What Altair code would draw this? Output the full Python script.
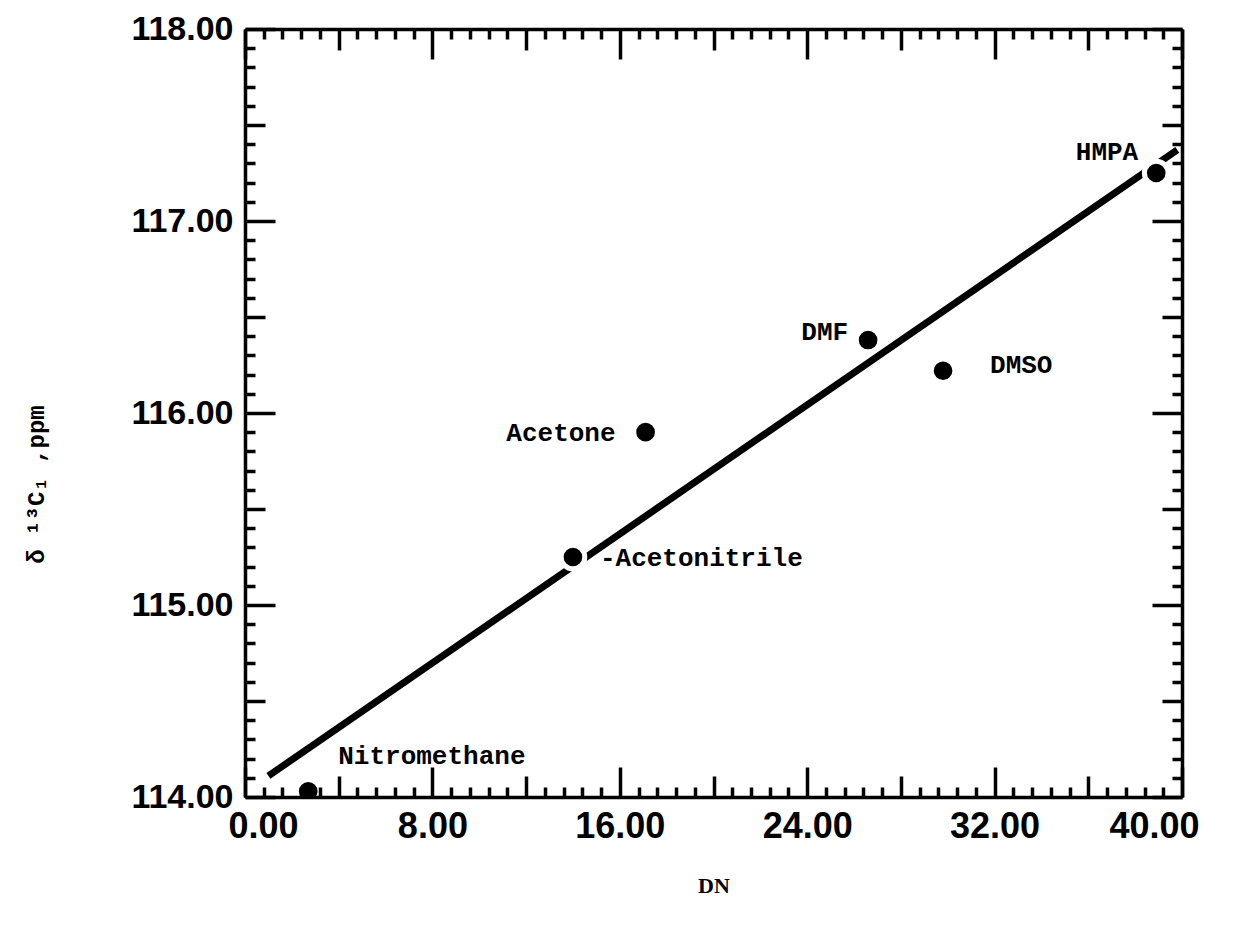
import altair as alt
import pandas as pd

# ---- data ----
solvents = ["Nitromethane", "Acetonitrile", "Acetone", "DMF", "DMSO", "HMPA"]
label_texts = ["Nitromethane", "-Acetonitrile", "Acetone", "DMF", "DMSO", "HMPA"]
dn_values = [2.7, 14.0, 17.1, 26.6, 29.8, 38.9]
shift_values = [114.03, 115.25, 115.90, 116.38, 116.22, 117.25]

fit_dn = [1.0, 39.8]
fit_shift = [114.11, 117.37]

x_label_values = [0, 8, 16, 24, 32, 40]
y_label_values = [114, 115, 116, 117, 118]
x_tick_values = [round(i * 0.8, 1) for i in range(51)]
y_tick_values = [round(114 + i * 0.1, 1) for i in range(41)]

# ---- styles ----
W, H = 937, 768
TICK_W = 3.5
label_style = {
    "Nitromethane": dict(align="left", dx=30, dy=-35),
    "Acetonitrile": dict(align="left", dx=27, dy=1),
    "Acetone": dict(align="right", dx=-30, dy=1),
    "DMF": dict(align="right", dx=-20, dy=-8),
    "DMSO": dict(align="left", dx=47, dy=-6),
    "HMPA": dict(align="right", dx=-18, dy=-21),
}

pts = pd.DataFrame({"solvent": solvents, "label": label_texts,
                    "dn": dn_values, "shift": shift_values})
fit = pd.DataFrame({"dn": fit_dn, "shift": fit_shift})

xscale = alt.Scale(domain=[0, 40], nice=False, zero=False)
yscale = alt.Scale(domain=[114, 118], nice=False, zero=False)

x_size = {"condition": [{"test": "datum.value % 8 === 0", "value": 30},
                        {"test": "datum.value % 4 === 0", "value": 21}],
          "value": 10}
y_size = {"condition": [{"test": "round(datum.value*10) % 10 === 0", "value": 30},
                        {"test": "round(datum.value*10) % 5 === 0", "value": 20}],
          "value": 10}

x_label_axis = alt.Axis(orient="bottom", values=x_label_values, format=".2f",
                        labelFont="Liberation Sans", labelFontWeight="bold",
                        labelFontSize=36, labelColor="black", labelPadding=12,
                        labelFlush=True, labelFlushOffset=17,
                        ticks=False, tickSize=0, grid=False,
                        domain=True, domainColor="black", domainWidth=TICK_W,
                        title="DN", titleFont="Liberation Serif", titleFontSize=22,
                        titleFontWeight="bold", titleColor="black", titlePadding=31,
                        zindex=1)
y_label_axis = alt.Axis(orient="left", values=y_label_values, format=".2f",
                        labelFont="Liberation Sans", labelFontWeight="bold",
                        labelFontSize=34, labelColor="black", labelPadding=12,
                        ticks=False, tickSize=0, grid=False,
                        domain=True, domainColor="black", domainWidth=TICK_W,
                        title="δ  ¹³C₁   ,ppm", titleFont="Liberation Mono",
                        titleFontSize=24, titleFontWeight="bold", titleColor="black",
                        titlePadding=82, titleY=455, zindex=1)


def tick_axis(orient, values, size, offset, domain):
    return alt.Axis(orient=orient, values=values, offset=offset, labels=False,
                    grid=False, title=None, tickColor="black", tickWidth=TICK_W,
                    tickSize=size, domain=domain, domainColor="black",
                    domainWidth=TICK_W, zindex=1)


line = alt.Chart(fit).mark_line(color="black", strokeWidth=7).encode(
    x=alt.X("dn:Q", scale=xscale, axis=x_label_axis),
    y=alt.Y("shift:Q", scale=yscale, axis=y_label_axis),
)

points = alt.Chart(pts).mark_circle(color="black", size=560, opacity=1,
                                    stroke="white", strokeWidth=5,
                                    clip=True).encode(
    x=alt.X("dn:Q", scale=xscale,
            axis=tick_axis("top", x_tick_values, x_size, -H, False)),
    y=alt.Y("shift:Q", scale=yscale,
            axis=tick_axis("right", y_tick_values, y_size, -W, False)),
)

frame = alt.Chart(pts).mark_circle(opacity=0).encode(
    x=alt.X("dn:Q", scale=xscale,
            axis=tick_axis("bottom", x_tick_values, x_size, -H, True)),
    y=alt.Y("shift:Q", scale=yscale,
            axis=tick_axis("left", y_tick_values, y_size, -W, True)),
)

texts = []
for name in solvents:
    st = label_style[name]
    texts.append(
        alt.Chart(pts).transform_filter(alt.datum.solvent == name).mark_text(
            font="Liberation Mono", fontWeight="bold", fontSize=26,
            color="black", baseline="middle", **st).encode(
            x=alt.X("dn:Q", scale=xscale, axis=None),
            y=alt.Y("shift:Q", scale=yscale, axis=None),
            text="label:N")
    )

chart = alt.layer(line, frame, points, *texts).resolve_axis(
    x="independent", y="independent"
).properties(
    width=W, height=H,
    padding={"left": 16, "top": 4, "right": 10, "bottom": 10},
    background="white",
).configure_view(stroke=None)

chart.save("out.html", embed_options={"renderer": "svg", "actions": False})
